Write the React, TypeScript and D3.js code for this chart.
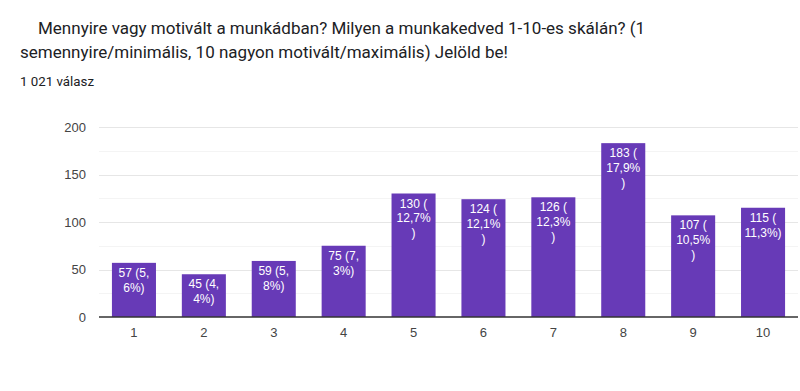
import React, { useEffect, useRef } from 'react';
import * as d3 from 'd3';

const categories = ['1', '2', '3', '4', '5', '6', '7', '8', '9', '10'];
const counts = [57, 45, 59, 75, 130, 124, 126, 183, 107, 115];
// labels as Google Forms wraps them inside the bars
const barLabels = [
  ['57 (5,', '6%)'],
  ['45 (4,', '4%)'],
  ['59 (5,', '8%)'],
  ['75 (7,', '3%)'],
  ['130 (', '12,7%', ')'],
  ['124 (', '12,1%', ')'],
  ['126 (', '12,3%', ')'],
  ['183 (', '17,9%', ')'],
  ['107 (', '10,5%', ')'],
  ['115 (', '11,3%)'],
];
const yTicks = [0, 50, 100, 150, 200];
const minorTicks = [25, 75, 125, 175];

const titleLines = [
  'Mennyire vagy motivált a munkádban? Milyen a munkakedved 1-10-es skálán? (1',
  'semennyire/minimális, 10 nagyon motivált/maximális) Jelöld be!',
];
const responses = '1 021 válasz';

const W = 800;
const H = 391;
const left = 99;
const right = 798;
const top = 127;
const bottom = 317;

const App = () => {
  const svgRef = useRef(null);

  useEffect(() => {
    const svg = d3.select(svgRef.current);
    svg.selectAll('*').remove();

    const x = d3.scaleBand().domain(categories).range([left, right]).paddingInner(0.37).paddingOuter(0.185);
    const y = d3.scaleLinear().domain([0, 200]).range([bottom, top]);

    // header
    svg
      .append('text')
      .attr('x', 38)
      .attr('y', 34)
      .attr('font-family', 'Roboto, sans-serif')
      .attr('font-size', 17)
      .attr('fill', '#202124')
      .text(titleLines[0]);
    svg
      .append('text')
      .attr('x', 20)
      .attr('y', 58)
      .attr('font-family', 'Roboto, sans-serif')
      .attr('font-size', 17)
      .attr('fill', '#202124')
      .text(titleLines[1]);
    svg
      .append('text')
      .attr('x', 20)
      .attr('y', 86)
      .attr('font-family', 'Roboto, sans-serif')
      .attr('font-size', 13.3)
      .attr('fill', '#202124')
      .text(responses);

    // gridlines
    svg
      .append('g')
      .selectAll('line')
      .data(minorTicks)
      .join('line')
      .attr('x1', left)
      .attr('x2', right)
      .attr('y1', (d) => Math.round(y(d)) + 0.5)
      .attr('y2', (d) => Math.round(y(d)) + 0.5)
      .attr('stroke', '#f4f4f4');
    svg
      .append('g')
      .selectAll('line')
      .data(yTicks.slice(1))
      .join('line')
      .attr('x1', left)
      .attr('x2', right)
      .attr('y1', (d) => Math.round(y(d)) + 0.5)
      .attr('y2', (d) => Math.round(y(d)) + 0.5)
      .attr('stroke', '#e6e6e6');

    // y tick labels
    svg
      .append('g')
      .selectAll('text')
      .data(yTicks)
      .join('text')
      .attr('x', 86)
      .attr('y', (d) => y(d) + 4.5)
      .attr('text-anchor', 'end')
      .attr('font-family', 'Arial, "Liberation Sans", sans-serif')
      .attr('font-size', 13)
      .attr('fill', '#444')
      .text((d) => d);

    // bars
    svg
      .append('g')
      .selectAll('rect')
      .data(counts)
      .join('rect')
      .attr('x', (d, i) => x(categories[i]))
      .attr('y', (d) => y(d))
      .attr('width', x.bandwidth())
      .attr('height', (d) => bottom - y(d))
      .attr('fill', '#673ab7');

    // bar labels
    const lbl = svg
      .append('g')
      .selectAll('text')
      .data(counts)
      .join('text')
      .attr('text-anchor', 'middle')
      .attr('font-family', 'Arial, "Liberation Sans", sans-serif')
      .attr('font-size', 12)
      .attr('fill', '#ffffff');
    lbl.each(function (d, i) {
      const cx = x(categories[i]) + x.bandwidth() / 2;
      d3.select(this)
        .selectAll('tspan')
        .data(barLabels[i])
        .join('tspan')
        .attr('x', cx)
        .attr('y', (t, j) => y(d) + 14 + j * 14.8)
        .text((t) => t);
    });

    // x axis line
    svg
      .append('line')
      .attr('x1', left)
      .attr('x2', right)
      .attr('y1', bottom)
      .attr('y2', bottom)
      .attr('stroke', '#333')
      .attr('stroke-width', 1.5);

    // x tick labels
    svg
      .append('g')
      .selectAll('text')
      .data(categories)
      .join('text')
      .attr('x', (d) => x(d) + x.bandwidth() / 2)
      .attr('y', 337)
      .attr('text-anchor', 'middle')
      .attr('font-family', 'Arial, "Liberation Sans", sans-serif')
      .attr('font-size', 13)
      .attr('fill', '#444')
      .text((d) => d);
  }, []);

  return (
    <svg
      ref={svgRef}
      width={W}
      height={H}
      style={{ position: 'absolute', left: 0, top: 0, background: '#fff' }}
    />
  );
};

export default App;
